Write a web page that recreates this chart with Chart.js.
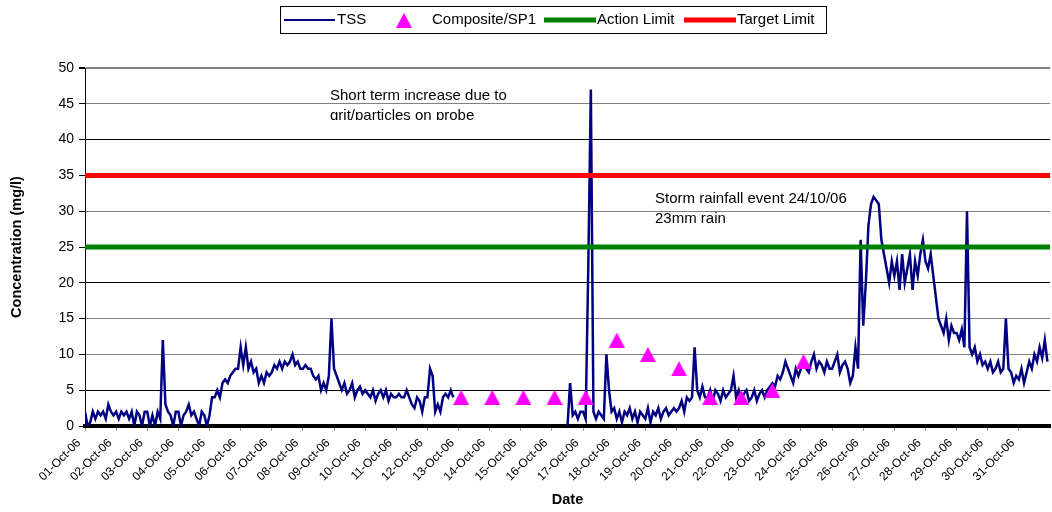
<!DOCTYPE html>
<html>
<head>
<meta charset="utf-8">
<script src="https://cdn.jsdelivr.net/npm/chart.js@4.4.0/dist/chart.umd.min.js"></script>
<style>
  body { margin: 0; background: #fff; }
  canvas { display: block; }
</style>
</head>
<body>
<canvas id="chart" width="1052" height="512"></canvas>
<script>
// tick labels, one per day of October 2006
const dayLabels = [
  '01-Oct-06', '02-Oct-06', '03-Oct-06', '04-Oct-06', '05-Oct-06', '06-Oct-06',
  '07-Oct-06', '08-Oct-06', '09-Oct-06', '10-Oct-06', '11-Oct-06', '12-Oct-06',
  '13-Oct-06', '14-Oct-06', '15-Oct-06', '16-Oct-06', '17-Oct-06', '18-Oct-06',
  '19-Oct-06', '20-Oct-06', '21-Oct-06', '22-Oct-06', '23-Oct-06', '24-Oct-06',
  '25-Oct-06', '26-Oct-06', '27-Oct-06', '28-Oct-06', '29-Oct-06', '30-Oct-06',
  '31-Oct-06'
];

// TSS readings, every 2 hours, one row per day (null = probe offline)
const tssStepHours = 2;
const tssByDay = [
  [2, 0, 0.5, 2, 1, 2, 1.5, 2, 1, 3, 2, 1.5],
  [2, 1, 2, 1.5, 2, 1, 2, 0, 2, 1.5, 0, 2],
  [2, 0, 1.5, 0, 2, 1, 12, 3, 2, 1.5, 0, 2],
  [2, 0, 1.5, 2, 3, 1.5, 2, 1, 0, 2, 1.5, 0],
  [1.5, 4, 4, 5, 4, 6, 6.5, 6, 7, 7.5, 8, 8],
  [11, 8.5, 11, 8, 9, 7.5, 8, 6, 7, 6, 7.5, 7],
  [7.5, 8.5, 8, 9, 8, 9, 8.5, 9, 10, 8.5, 9, 8],
  [8, 8.5, 8, 8, 7, 6.5, 7, 5, 6, 5, 7, 15],
  [8, 7, 6, 5, 6, 4.5, 5, 6, 4, 5, 5.5, 4.5],
  [5, 4.5, 4, 5, 3.5, 4.5, 5, 4, 5, 3.5, 4.5, 4],
  [4, 4.5, 4, 4, 5, 4, 3, 2.5, 4, 3.5, 2, 4],
  [4, 8, 7, 2, 3, 2, 4, 4.5, 4, 5, 4, null],
  [null, null, null, null, null, null, null, null, null, null, null, null],
  [null, null, null, null, null, null, null, null, null, null, null, null],
  [null, null, null, null, null, null, null, null, null, null, null, null],
  [null, null, null, null, null, null, 0, 6, 1.5, 2, 1, 2],
  [2, 1, 22, 47, 2, 1, 2, 1.5, 1, 10, 5, 2],
  [2.5, 1, 2, 0.5, 2, 1.5, 2.5, 1, 2, 0.5, 2, 1.5],
  [1, 2.5, 0.5, 2, 1.5, 2.5, 1, 2, 2.5, 1.5, 2, 2.5],
  [2, 2.5, 3.5, 2, 4, 3.5, 4, 11, 5, 4, 5.5, 4],
  [4, 5, 3.5, 5, 4.5, 3.5, 5, 4, 4.5, 5, 7, 4],
  [5, 3.5, 4.5, 5, 3.5, 4, 5, 3.5, 4.5, 5, 4, 5],
  [5.5, 6, 5.5, 7, 6.5, 7.5, 9, 8, 7, 6, 8, 7],
  [8, 9, 8, 7.5, 9, 10, 8, 9, 8.5, 7.5, 9, 8],
  [8, 9, 10, 7.5, 8.5, 9, 8, 6, 7, 11, 8, 26],
  [14, 20, 28, 31, 32, 31.5, 31, 26, 24, 22, 20, 23],
  [21, 23, 19, 24, 20, 22, 24, 19, 23, 21, 24, 26],
  [23, 22, 24, 21, 18, 15, 14, 13, 15, 12, 14, 13],
  [13, 12, 13.5, 11, 30, 11, 10, 11, 9, 10, 8.5, 9],
  [8, 9, 7.5, 8, 9, 7.5, 8, 15, 8, 7.5, 6, 7],
  [6.5, 8, 6, 7.5, 9, 8, 10, 9, 11, 9.5, 12, 9]
];

// composite samples (SP1), day index from 1 Oct
const compositeDays = [12, 13, 14, 15, 16, 17, 18, 19, 20, 21, 22, 23];
const compositeHour = 2;
const compositeValues = [4, 4, 4, 4, 4, 12, 10, 8, 4, 4, 5, 9];

const actionLimit = 25;
const targetLimit = 35;

const tssPoints = tssByDay.flatMap((row, d) =>
  row.map((v, i) => ({ x: d + (i * tssStepHours) / 24, y: v }))
);
const compositePoints = compositeDays.map((d, i) => ({ x: d + compositeHour / 24, y: compositeValues[i] }));

// magenta triangle marker, centred on its box like Excel does
const tri = document.createElement('canvas');
tri.width = 16; tri.height = 15;
{
  const c = tri.getContext('2d');
  c.fillStyle = '#ff00ff';
  c.beginPath();
  c.moveTo(8, 0); c.lineTo(16, 15); c.lineTo(0, 15);
  c.closePath();
  c.fill();
}

const FONT = "'Liberation Sans', Arial, sans-serif";
Chart.defaults.font.family = FONT;
Chart.defaults.color = '#000';

const gridColors = { 5: '#000', 10: '#808080', 15: '#808080', 20: '#000', 30: '#808080', 40: '#000', 45: '#808080', 50: '#808080' };

const extras = {
  id: 'extras',
  beforeDraw(chart) {
    const ctx = chart.ctx;
    ctx.save();
    ctx.fillStyle = '#fff';
    ctx.fillRect(0, 0, chart.width, chart.height);
    ctx.restore();
  },
  afterDraw(chart) {
    const ctx = chart.ctx;
    ctx.save();
    // legend box
    ctx.strokeStyle = '#000';
    ctx.lineWidth = 1;
    ctx.strokeRect(280.5, 6.5, 546, 27);
    ctx.font = '15px ' + FONT;
    ctx.textBaseline = 'middle';
    ctx.fillStyle = '#000';
    const ly = 20;
    ctx.lineWidth = 2;
    ctx.strokeStyle = '#000080';
    ctx.beginPath(); ctx.moveTo(284, ly); ctx.lineTo(335, ly); ctx.stroke();
    ctx.fillText('TSS', 337, ly);
    ctx.drawImage(tri, 396, ly - 7);
    ctx.fillText('Composite/SP1', 432, ly);
    ctx.lineWidth = 5;
    ctx.strokeStyle = '#008000';
    ctx.beginPath(); ctx.moveTo(544, ly); ctx.lineTo(596, ly); ctx.stroke();
    ctx.fillText('Action Limit', 597, ly);
    ctx.strokeStyle = '#ff0000';
    ctx.beginPath(); ctx.moveTo(684, ly); ctx.lineTo(736, ly); ctx.stroke();
    ctx.fillText('Target Limit', 737, ly);

    // notes
    ctx.textBaseline = 'alphabetic';
    ctx.fillText('Short term increase due to', 330, 100);
    ctx.save();
    ctx.beginPath();
    ctx.rect(320, 104, 220, 16);
    ctx.clip();
    ctx.fillText('grit/particles on probe', 330, 120);
    ctx.restore();
    ctx.fillText('Storm rainfall event 24/10/06', 655, 203);
    ctx.fillText('23mm rain', 655, 223);
    ctx.restore();
  }
};

new Chart(document.getElementById('chart'), {
  type: 'line',
  data: {
    datasets: [
      {
        label: 'TSS',
        data: tssPoints,
        borderColor: '#000080',
        borderWidth: 2.5,
        pointRadius: 0,
        tension: 0,
        spanGaps: false,
        order: 3
      },
      {
        label: 'Composite/SP1',
        data: compositePoints,
        showLine: false,
        pointStyle: tri,
        pointRadius: 8,
        order: 0
      },
      {
        label: 'Action Limit',
        data: [{ x: 0, y: actionLimit }, { x: 31, y: actionLimit }],
        borderColor: '#008000',
        borderWidth: 5,
        pointRadius: 0,
        order: 2
      },
      {
        label: 'Target Limit',
        data: [{ x: 0, y: targetLimit }, { x: 31, y: targetLimit }],
        borderColor: '#ff0000',
        borderWidth: 5,
        pointRadius: 0,
        order: 1
      }
    ]
  },
  options: {
    responsive: false,
    animation: false,
    devicePixelRatio: 1,
    layout: { autoPadding: false, padding: { top: 68, right: 2, left: 0, bottom: 0 } },
    plugins: {
      legend: { display: false },
      tooltip: { enabled: false }
    },
    scales: {
      x: {
        type: 'linear',
        min: 0,
        max: 31,
        afterBuildTicks: s => { s.ticks = s.ticks.filter(t => t.value <= 30); },
        afterFit: s => { s.height = 86; },
        grid: { drawOnChartArea: false, drawTicks: true, tickLength: 5, tickColor: '#999' },
        border: { color: '#000', width: 4 },
        ticks: {
          stepSize: 1,
          autoSkip: false,
          maxRotation: 45,
          minRotation: 45,
          padding: 5,
          labelOffset: -6,
          font: { size: 12 },
          callback: v => dayLabels[Math.round(v)] || ''
        },
        title: { display: true, text: 'Date', font: { size: 14.5, weight: 'bold' }, padding: { top: 0, bottom: 3 } }
      },
      y: {
        min: 0,
        max: 50,
        afterFit: s => { s.width = 85; },
        grid: {
          color: c => gridColors[c.tick.value] || 'rgba(0,0,0,0)',
          lineWidth: c => (c.tick.value === 50 ? 2 : 1),
          tickColor: '#000',
          tickLength: 6
        },
        border: { color: '#000', width: 1 },
        ticks: { stepSize: 5, padding: 5, font: { size: 14 } },
        title: { display: true, text: 'Concentration (mg/l)', font: { size: 14.5, weight: 'bold' }, padding: { top: 8, bottom: 0 } }
      }
    }
  },
  plugins: [extras]
});
</script>
</body>
</html>
